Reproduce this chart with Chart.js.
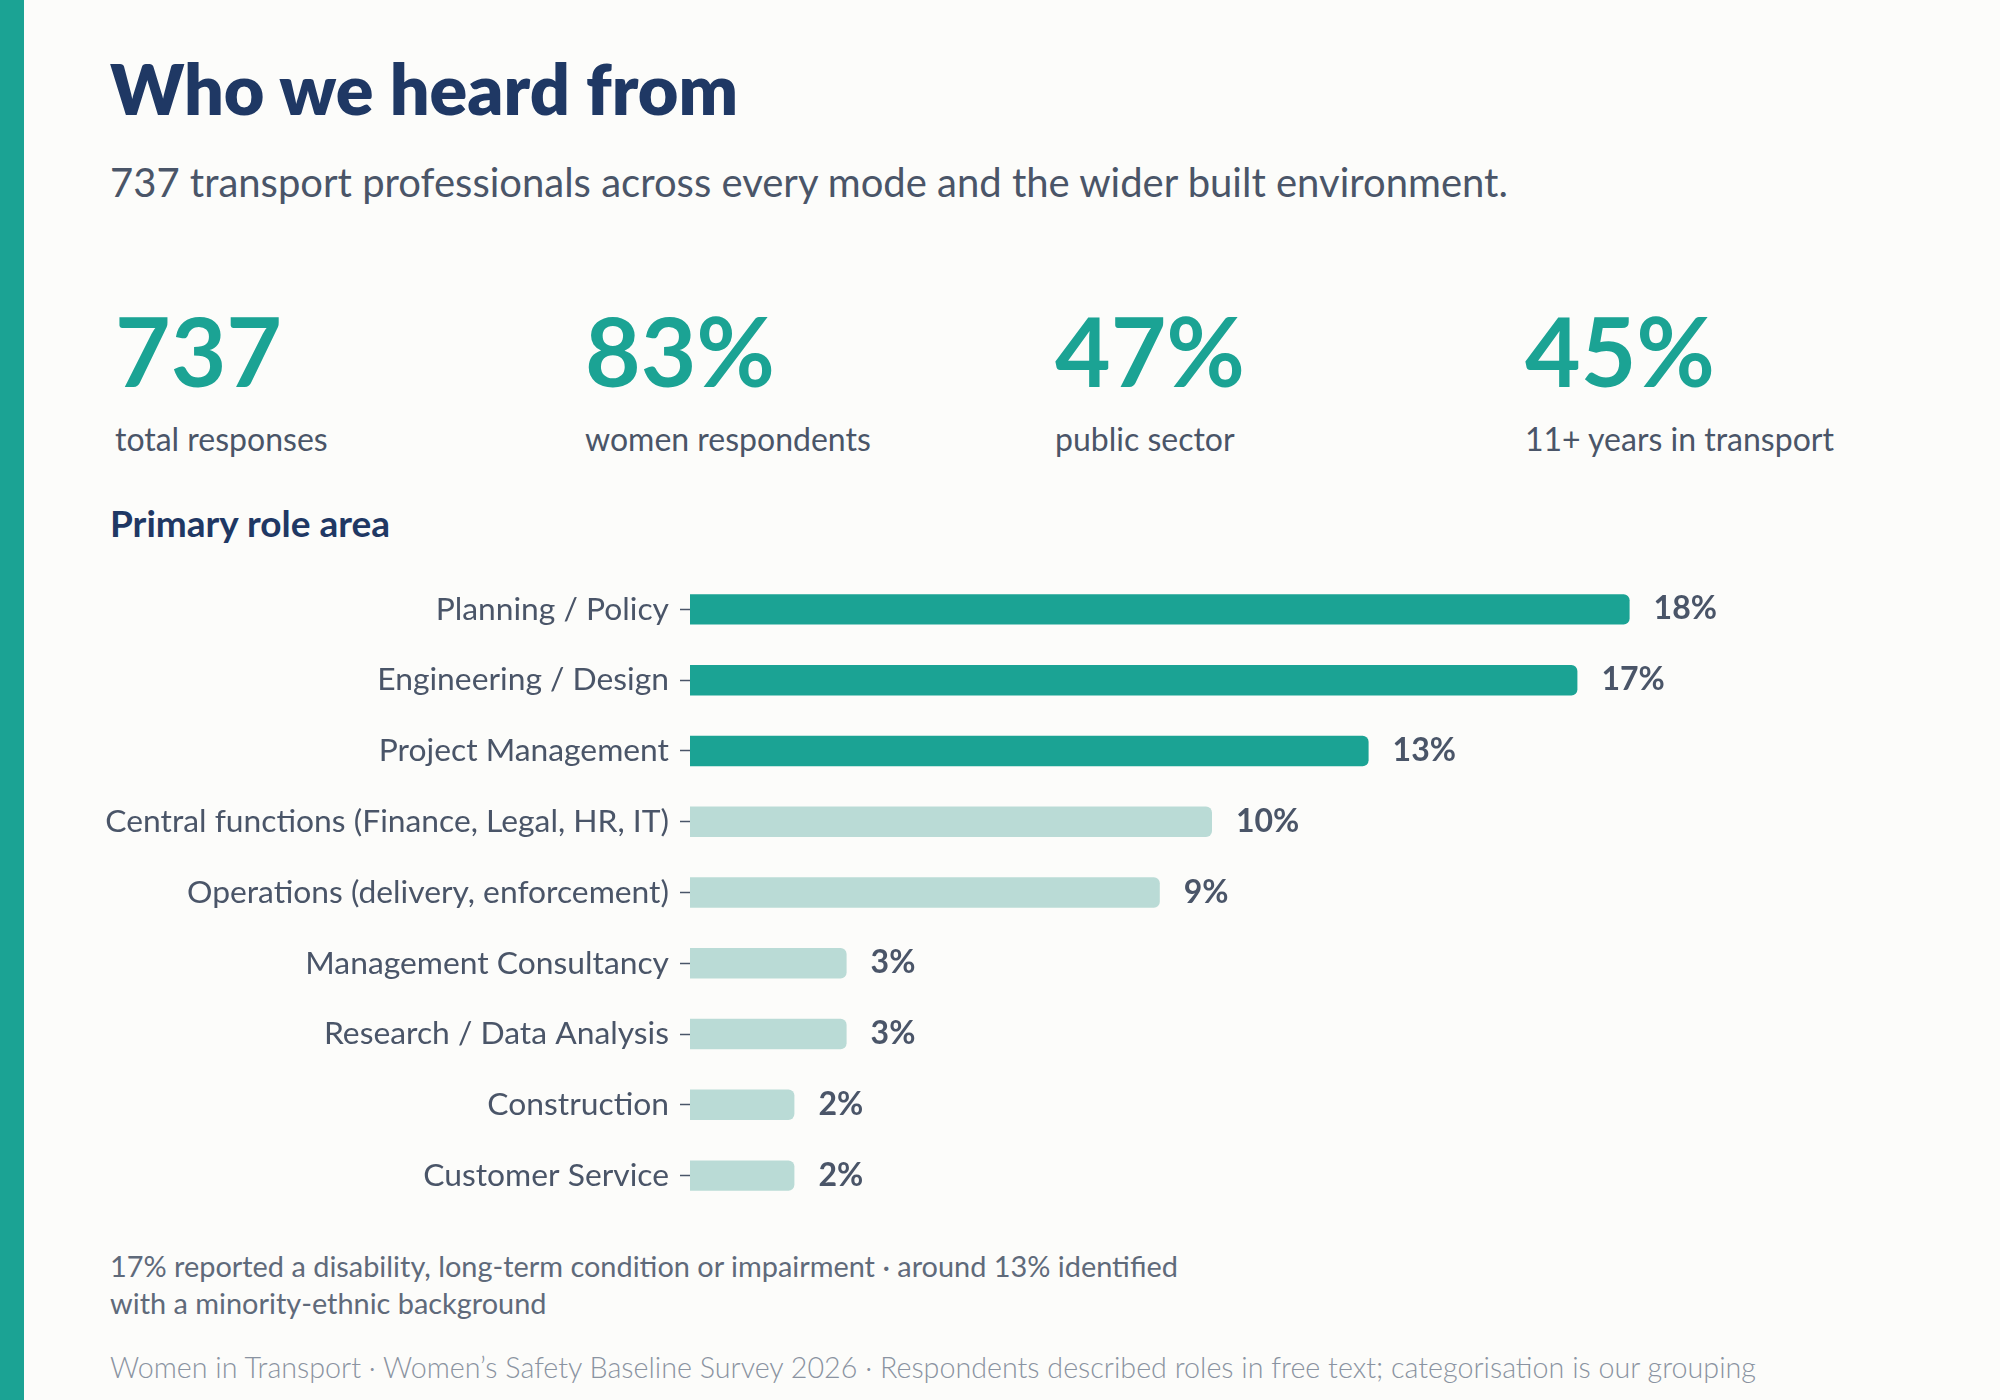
<!DOCTYPE html>
<html>
<head>
<meta charset="utf-8">
<title>Who we heard from</title>
<script src="https://cdn.jsdelivr.net/npm/chart.js@4.4.1/dist/chart.umd.min.js"></script>
<style>
  html, body { margin: 0; padding: 0; }
  body {
    width: 2000px; height: 1400px; position: relative; overflow: hidden;
    background: #fcfcfa; font-family: Lato, "Noto Sans", sans-serif;
  }
  .stripe { position: absolute; left: 0; top: 0; width: 24px; height: 1400px; background: #1ba394; }
  .abs { position: absolute; line-height: 1; white-space: nowrap; }
  #title { left: 110px; top: 53px; font-size: 70px; font-weight: 800; color: #1f3864; }
  #subtitle { left: 110px; top: 162px; font-size: 40px; color: #4a5568; }
  .stat-num { top: 302px; font-size: 96px; font-weight: 700; color: #1ba394; }
  .stat-label { top: 423px; font-size: 32px; color: #4a5568; }
  #section { left: 110px; top: 504px; font-size: 37px; font-weight: 700; color: #1f3864; }
  #note { left: 110px; top: 1247px; font-size: 28.9px; line-height: 37px; color: #5f6a7a; white-space: normal; width: 1100px; }
  #source { left: 110px; top: 1353px; font-size: 28.7px; font-weight: 300; color: #8a93a1; }
  #chartWrap { position: absolute; left: 100px; top: 560px; width: 1700px; height: 660px; }
</style>
</head>
<body>
<div class="stripe"></div>
<div id="title" class="abs">Who we heard from</div>
<div id="subtitle" class="abs">737 transport professionals across every mode and the wider built environment.</div>
<div id="stats"></div>
<div id="section" class="abs">Primary role area</div>
<div id="chartWrap"><canvas id="roles" width="1700" height="660"></canvas></div>
<div id="note" class="abs">17% reported a disability, long-term condition or impairment · around 13% identified with a minority-ethnic background</div>
<div id="source" class="abs">Women in Transport · Women’s Safety Baseline Survey 2026 · Respondents described roles in free text; categorisation is our grouping</div>

<script>
// Headline figures
const statValues = ['737', '83%', '47%', '45%'];
const statLabels = ['total responses', 'women respondents', 'public sector', '11+ years in transport'];

// Primary role area (% of respondents)
const roleLabels = [
  'Planning / Policy',
  'Engineering / Design',
  'Project Management',
  'Central functions (Finance, Legal, HR, IT)',
  'Operations (delivery, enforcement)',
  'Management Consultancy',
  'Research / Data Analysis',
  'Construction',
  'Customer Service'
];
const roleShares = [18, 17, 13, 10, 9, 3, 3, 2, 2];
const highlightCount = 3; // top roles drawn in the strong colour

const TEAL = '#1ba394';
const PALE = '#badbd6';
const SLATE = '#4a5568';

// Build the stat row
const statsEl = document.getElementById('stats');
statValues.forEach((v, i) => {
  const left = 115 + i * 470;
  const num = document.createElement('div');
  num.className = 'abs stat-num';
  num.style.left = left + 'px';
  num.textContent = v;
  const lab = document.createElement('div');
  lab.className = 'abs stat-label';
  lab.style.left = left + 'px';
  lab.textContent = statLabels[i];
  statsEl.appendChild(num);
  statsEl.appendChild(lab);
});

// Value labels at the end of each bar
const barValueLabels = {
  id: 'barValueLabels',
  afterDatasetsDraw(chart) {
    const ctx = chart.ctx;
    const meta = chart.getDatasetMeta(0);
    ctx.save();
    ctx.font = '700 32px Lato';
    ctx.fillStyle = SLATE;
    ctx.textAlign = 'left';
    ctx.textBaseline = 'alphabetic';
    meta.data.forEach((bar, i) => {
      ctx.fillText(roleShares[i] + '%', bar.x + 24, bar.y + 10);
    });
    ctx.restore();
  }
};

new Chart(document.getElementById('roles').getContext('2d'), {
  type: 'bar',
  data: {
    labels: roleLabels,
    datasets: [{
      data: roleShares,
      backgroundColor: roleShares.map((_, i) => i < highlightCount ? TEAL : PALE),
      borderRadius: 6,
      borderSkipped: 'start',
      categoryPercentage: 1,
      barPercentage: 0.43
    }]
  },
  options: {
    indexAxis: 'y',
    responsive: false,
    animation: false,
    layout: { padding: { top: 14, bottom: 9, right: 66, left: 0 } },
    plugins: {
      legend: { display: false },
      tooltip: { enabled: false }
    },
    scales: {
      x: { display: false, min: 0, max: 20 },
      y: {
        afterFit(scale) {
          scale.width = 590;
          scale.paddingTop = 0;
          scale.paddingBottom = 0;
        },
        border: { display: false },
        grid: {
          display: true,
          drawOnChartArea: false,
          drawTicks: true,
          offset: false,
          tickLength: 10,
          tickColor: SLATE,
          tickWidth: 1.5
        },
        ticks: {
          padding: 11,
          color: SLATE,
          font: { family: 'Lato', size: 31.8 }
        }
      }
    }
  },
  plugins: [barValueLabels]
});
</script>
</body>
</html>
